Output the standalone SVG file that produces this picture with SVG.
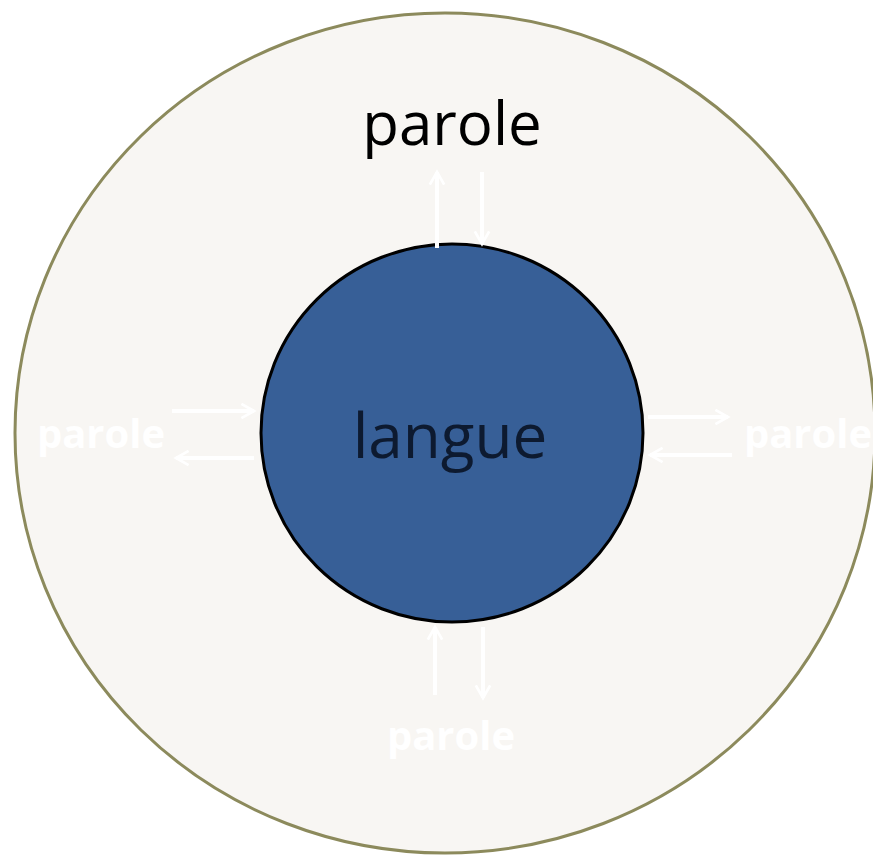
<svg xmlns="http://www.w3.org/2000/svg" width="873" height="859" viewBox="0 0 873 859">
<style>
.lbl{font-family:"Open Sans","Liberation Sans",sans-serif;text-anchor:middle}
.w{fill:#ffffff}
.arr{stroke:#ffffff;stroke-width:4;fill:none;marker-end:url(#ah)}
</style>
<defs>
<marker id="ah" viewBox="0 0 10 10" refX="8" refY="5" markerWidth="4.5" markerHeight="4.5" orient="auto" markerUnits="strokeWidth">
<path d="M1,1 L8,5 L1,9" fill="none" stroke="#ffffff" stroke-width="1.5"/>
</marker>
</defs>
<rect width="873" height="859" fill="#ffffff"/>
<g id="outer">
<ellipse cx="445" cy="433" rx="430" ry="420" fill="#f8f6f3" stroke="#8c8a5c" stroke-width="3"/>
<text class="lbl" x="452" y="145" font-size="60" fill="#000000">parole</text>
</g>
<g id="langue">
<ellipse cx="452" cy="433" rx="191" ry="189" fill="#375f97" stroke="#000000" stroke-width="3"/>
<text class="lbl" x="450" y="458" font-size="62" fill="#0d1a30">langue</text>
</g>
<g id="parole-left"><text class="lbl w" x="101" y="448" font-size="40" font-weight="bold">parole</text></g>
<g id="parole-right"><text class="lbl w" x="808" y="448" font-size="40" font-weight="bold">parole</text></g>
<g id="parole-bottom"><text class="lbl w" x="451" y="750" font-size="40" font-weight="bold">parole</text></g>
<g id="connectors">
<line class="arr" x1="437" y1="248" x2="437" y2="172"/>
<line class="arr" x1="482" y1="172" x2="482" y2="244"/>
<line class="arr" x1="172" y1="411" x2="254" y2="411"/>
<line class="arr" x1="254" y1="458" x2="176" y2="458"/>
<line class="arr" x1="648" y1="417" x2="728" y2="417"/>
<line class="arr" x1="732" y1="455" x2="650" y2="455"/>
<line class="arr" x1="435" y1="695" x2="435" y2="627"/>
<line class="arr" x1="483" y1="627" x2="483" y2="698"/>
</g>
</svg>
